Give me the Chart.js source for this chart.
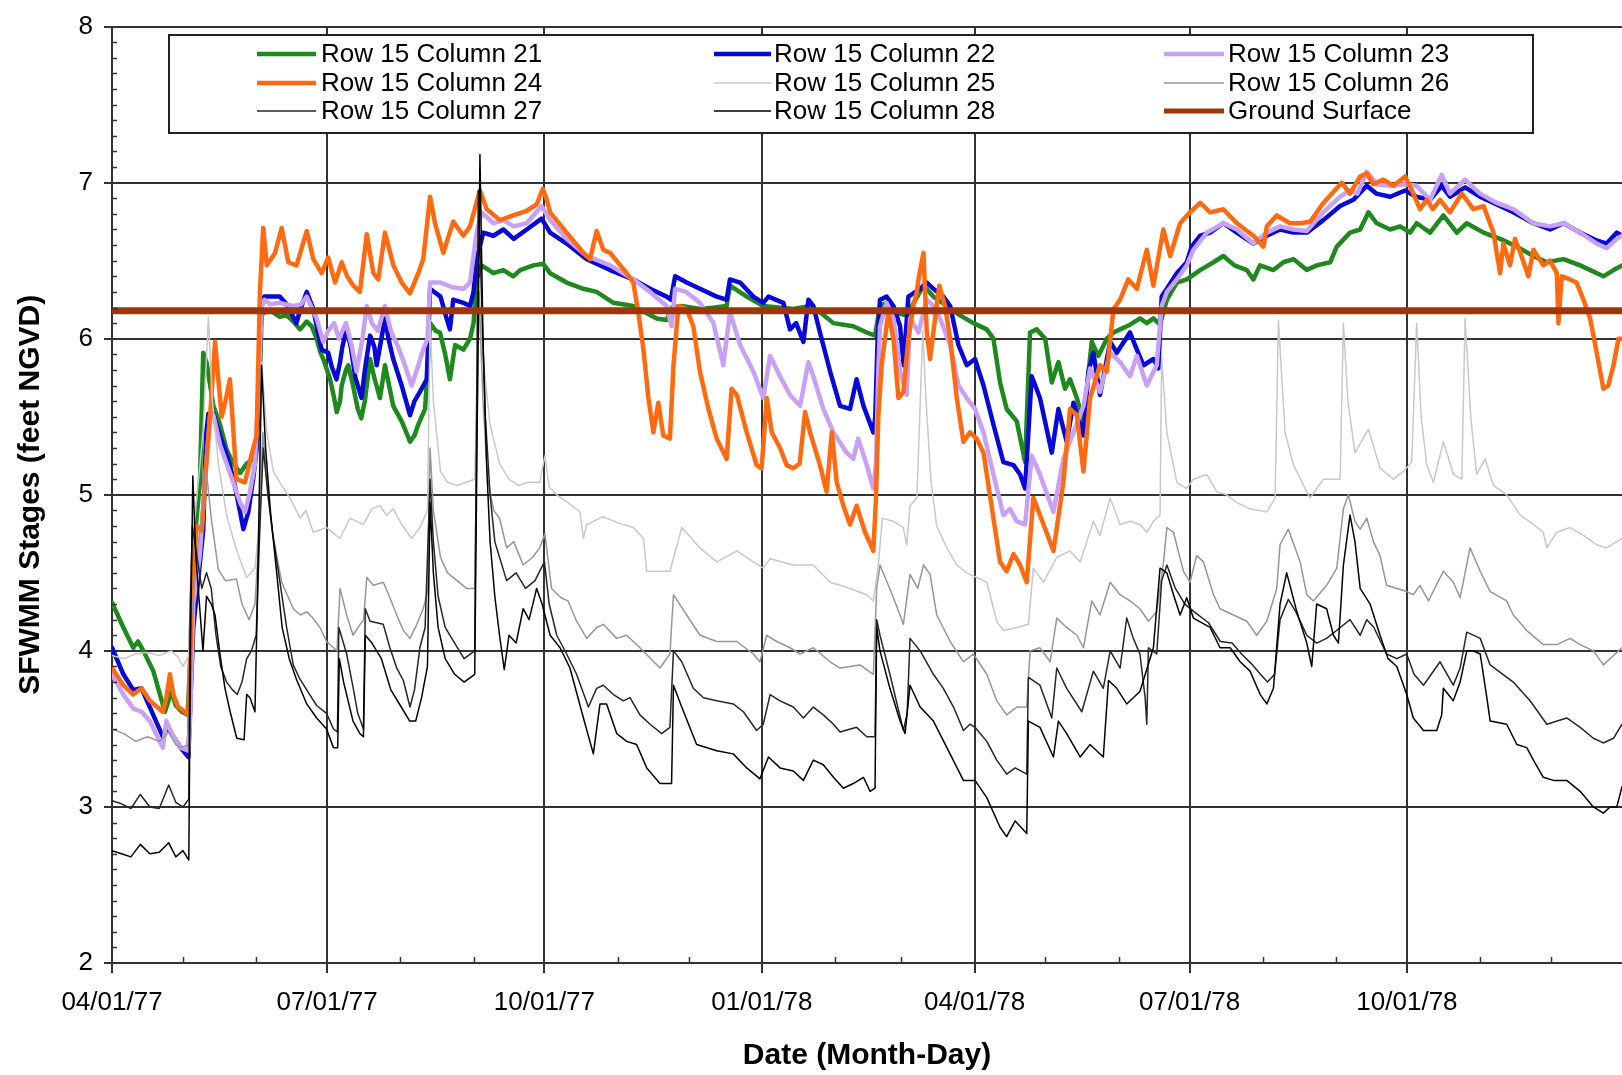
<!DOCTYPE html>
<html lang="en">
<head>
<meta charset="UTF-8">
<title>SFWMM Stages</title>
<script src="https://cdn.jsdelivr.net/npm/chart.js"></script>
<style>
    html, body { margin: 0; padding: 0; background: #fff; overflow: hidden; }
    canvas { display: block; }
</style>
</head>
<body>
<canvas id="grafica" width="1622" height="1075"></canvas>
<script>
// x = days since 04/01/77, y = stage (feet NGVD)
const quarterDays = [0, 91, 183, 275, 365, 456, 548];
const quarterLabels = ['04/01/77', '07/01/77', '10/01/77', '01/01/78', '04/01/78', '07/01/78', '10/01/78'];
const monthDays = [30, 61, 122, 153, 214, 244, 306, 334, 395, 426, 487, 518, 579, 609];
const groundSurface = 6.18;

const col21 = [[0,4.31],[4.8,4.15],[9,4.02],[11,4.06],[13.3,4.0],[17.5,3.87],[20.3,3.72],[22.4,3.61],[25.2,3.74],[27,3.65],[29.5,3.61],[32,3.59],[33,3.9],[34.4,4.62],[37.2,5.08],[38.6,5.91],[40,5.85],[42.9,5.57],[45.7,5.45],[48.5,5.29],[51.3,5.2],[54.2,5.14],[57,5.2],[59.8,5.23],[61.9,5.38],[63.3,6.15],[64.5,6.17],[67,6.18],[71,6.14],[74,6.15],[76.7,6.11],[79.6,6.06],[82.4,6.11],[84.5,6.08],[86.6,6.0],[88,5.92],[89.4,5.87],[91,5.8],[92.3,5.74],[94,5.62],[95.1,5.53],[96.5,5.6],[97.2,5.7],[99,5.8],[100,5.83],[102,5.7],[104,5.55],[105.5,5.49],[107,5.6],[109.2,5.87],[111,5.75],[113.4,5.62],[115.5,5.83],[117,5.72],[119,5.57],[122.6,5.47],[124,5.42],[126.1,5.34],[128,5.38],[129.6,5.45],[132.5,5.55],[133.5,5.8],[134.6,6.1],[137,6.05],[138.8,6.04],[141,5.9],[143,5.74],[145.2,5.96],[148.7,5.93],[151.5,6.0],[153,6.1],[154.3,6.38],[156.4,6.47],[161.4,6.42],[165.6,6.44],[169.8,6.4],[172.7,6.44],[178.3,6.47],[182.5,6.48],[185.4,6.42],[192.4,6.36],[199.5,6.32],[205.1,6.3],[212.2,6.23],[220.6,6.21],[230.5,6.13],[234.7,6.12],[237,6.2],[241.1,6.21],[248.8,6.19],[255,6.2],[260.1,6.21],[261.5,6.34],[268.6,6.27],[275.6,6.21],[288.3,6.19],[295.4,6.21],[299.6,6.17],[305.3,6.1],[313.7,6.08],[319.4,6.04],[322.9,6.02],[325,6.21],[327.8,6.23],[330.7,6.17],[336.3,6.15],[343.4,6.34],[347.6,6.27],[353.3,6.21],[358.9,6.15],[364.5,6.1],[370.2,6.06],[373,6.0],[375.8,5.72],[378.6,5.55],[382.9,5.47],[386.4,5.21],[388.5,6.04],[391.3,6.06],[394.9,6.0],[397.7,5.72],[400.5,5.85],[403.3,5.68],[405.4,5.74],[408.3,5.62],[411.1,5.47],[414.6,5.98],[417.4,5.89],[421,6.0],[423.8,6.04],[426.6,6.06],[430.8,6.09],[435,6.13],[437.9,6.1],[440.7,6.13],[443.5,6.09],[446.4,6.25],[450.6,6.36],[454.8,6.38],[460.5,6.44],[466.1,6.49],[470.3,6.53],[475,6.47],[480.2,6.44],[483,6.38],[485.8,6.47],[491.5,6.44],[495.7,6.49],[500,6.51],[505.6,6.44],[509.8,6.47],[515.5,6.49],[518.3,6.59],[523.9,6.68],[528.2,6.7],[531.7,6.81],[535.2,6.74],[540.9,6.7],[545.1,6.72],[549.3,6.68],[552.1,6.74],[557.8,6.68],[563.4,6.79],[569.1,6.68],[573.3,6.74],[580.4,6.68],[587.4,6.64],[594.5,6.59],[601.5,6.53],[607.2,6.49],[614.2,6.51],[621.3,6.47],[631.1,6.4],[635.4,6.44],[639,6.47]];

const col22 = [[0,4.02],[4.8,3.85],[9,3.75],[12.5,3.76],[16,3.64],[21.5,3.45],[23.5,3.51],[26,3.45],[29,3.38],[32.3,3.32],[33,3.6],[34.4,4.15],[36.5,4.46],[38.6,4.77],[39.8,5.38],[40.8,5.52],[42.9,5.52],[45.7,5.38],[48.5,5.26],[51.3,5.11],[54.2,4.89],[55.6,4.78],[57.7,4.89],[59.8,5.11],[61.2,5.29],[63.3,6.22],[64.5,6.27],[67,6.27],[71,6.27],[74,6.22],[78,6.1],[80,6.2],[82.4,6.3],[85.2,6.19],[87,6.05],[88.7,5.93],[91.5,5.91],[93,5.82],[95,5.74],[96.5,5.85],[97.5,5.95],[99.3,6.06],[101,5.95],[103,5.75],[105.6,5.62],[107,5.8],[109.2,6.02],[111,5.95],[112,5.83],[114,6.0],[115.5,6.13],[117,6.0],[119,5.87],[122.6,5.7],[126.1,5.51],[128,5.6],[130.3,5.66],[133.2,5.74],[134.6,6.32],[139,6.27],[141.6,6.13],[143,6.06],[144.4,6.25],[148.7,6.23],[151.5,6.21],[153,6.3],[154.3,6.51],[157.1,6.68],[161.4,6.66],[165.6,6.7],[170,6.64],[175.5,6.7],[181.8,6.77],[185.4,6.68],[192.4,6.61],[200.9,6.51],[203.7,6.49],[210.8,6.44],[220.6,6.38],[227.7,6.32],[234.7,6.27],[236.5,6.25],[238.3,6.4],[243.2,6.36],[248.8,6.32],[255.9,6.27],[260.1,6.25],[261.5,6.38],[265.8,6.36],[271.4,6.27],[275.6,6.23],[277.8,6.27],[284.1,6.23],[286.9,6.06],[289.5,6.1],[292.6,5.98],[294.7,6.25],[296.8,6.21],[299.6,6.04],[303.9,5.79],[308.1,5.57],[312.3,5.55],[315.1,5.74],[318,5.57],[322.2,5.4],[323,5.5],[324,6.0],[325,6.25],[327.8,6.27],[330.7,6.21],[333.5,6.08],[335,5.83],[337,6.27],[342,6.32],[344.8,6.36],[347.6,6.32],[351.8,6.27],[354.7,6.21],[358.2,5.96],[361.7,5.83],[365.2,5.87],[368.8,5.7],[373,5.45],[377.2,5.21],[381.5,5.19],[384.3,5.13],[386.4,5.04],[389.2,5.76],[392.7,5.62],[397.7,5.27],[400.5,5.55],[404,5.34],[406.9,5.59],[411.1,5.38],[413.2,5.79],[415.3,5.91],[418.1,5.64],[422.4,5.98],[425.2,5.91],[430.8,6.04],[433.7,5.93],[436.5,5.83],[440.7,5.87],[442.8,5.81],[444.2,6.27],[446.4,6.32],[450.6,6.42],[454.8,6.49],[456.9,6.59],[460.5,6.66],[464.7,6.68],[470.3,6.74],[476,6.68],[483,6.61],[488.7,6.66],[494.3,6.7],[500,6.68],[505.6,6.68],[512.6,6.76],[519.7,6.85],[525.3,6.89],[531,6.98],[535,6.93],[540.9,6.91],[547.2,6.95],[552,6.91],[557.8,6.89],[562.7,6.98],[566.2,6.91],[572.6,6.97],[578.9,6.91],[586,6.86],[593,6.81],[601.5,6.74],[608.6,6.7],[614.2,6.74],[621.3,6.68],[628.3,6.63],[632.5,6.61],[636.8,6.68],[639,6.66]];

const col23 = [[0,3.85],[4.8,3.72],[9,3.63],[12.5,3.61],[16,3.55],[21.5,3.38],[23,3.55],[26,3.45],[29,3.38],[32.3,3.36],[33,3.55],[34.4,4.3],[37.2,4.62],[39.3,5.08],[41.5,5.51],[42.9,5.51],[45.7,5.32],[48.5,5.2],[51.3,5.08],[54.2,4.95],[56.3,4.89],[58.4,5.02],[60.5,5.2],[62,5.69],[63.3,6.2],[64.5,6.25],[67,6.22],[71,6.23],[76.7,6.21],[80,6.22],[82.4,6.27],[86.6,6.13],[89.4,5.98],[91.5,6.05],[94,6.1],[96,6.0],[99,6.1],[101.5,5.95],[103.5,5.79],[106,6.0],[107.8,6.21],[110,6.1],[112.5,6.05],[115.5,6.21],[118,6.05],[121,5.95],[123.5,5.85],[126.8,5.7],[129,5.8],[131.7,5.93],[133.5,6.0],[134.6,6.36],[139,6.36],[144,6.33],[148.7,6.32],[151.5,6.36],[154.3,6.68],[156.4,6.81],[161.4,6.74],[165.6,6.76],[170,6.72],[175.5,6.74],[181.8,6.85],[185.4,6.76],[192.4,6.64],[200.9,6.53],[210.8,6.47],[220.6,6.38],[227.7,6.3],[234.7,6.21],[236.8,6.08],[238.3,6.32],[243,6.3],[248.8,6.23],[254.5,6.1],[258.7,5.83],[261.5,6.17],[265.8,5.96],[271.4,5.79],[275.6,5.62],[278.5,5.89],[282.7,5.76],[286.9,5.64],[291.2,5.57],[294.7,5.85],[297,5.75],[301,5.55],[305.3,5.4],[310.9,5.27],[313.7,5.23],[315.8,5.36],[319.4,5.19],[322.2,5.04],[323.3,5.2],[324.3,5.8],[325,6.08],[327.8,6.23],[330.7,6.13],[333.5,5.79],[336.3,5.64],[337.7,6.13],[341.3,6.04],[344.8,6.25],[347.6,6.21],[350.4,6.13],[354.7,5.96],[358.2,5.7],[361.7,5.62],[365.2,5.55],[368.8,5.4],[373,5.13],[377.2,4.87],[380,4.91],[382.9,4.83],[386.4,4.81],[389.2,5.25],[392.7,5.13],[398.4,4.89],[402.6,5.23],[406.9,5.4],[411.1,5.57],[413.9,5.81],[418.1,5.66],[422.4,5.91],[426.6,5.85],[430.8,5.76],[433.7,5.89],[437.9,5.7],[442.1,5.83],[444.2,6.21],[446.4,6.3],[450.6,6.38],[454.8,6.47],[457.6,6.57],[463.3,6.68],[470.3,6.74],[476,6.7],[483,6.61],[488.7,6.68],[494.3,6.72],[500,6.7],[505.6,6.69],[512.6,6.81],[519.7,6.91],[523.9,6.95],[527,6.93],[531,7.07],[535.2,6.99],[540.9,6.98],[547.2,6.99],[552.1,6.98],[557.8,6.89],[562.7,7.05],[566.2,6.93],[572.6,7.02],[578.9,6.93],[586,6.87],[593,6.83],[601.5,6.74],[608.6,6.72],[614.2,6.74],[621.3,6.68],[628.3,6.61],[632.5,6.58],[636.8,6.64],[639,6.66]];

const col24 = [[0,3.89],[4.8,3.78],[9,3.72],[12.5,3.76],[16,3.68],[21.5,3.61],[23,3.7],[24.5,3.85],[26,3.72],[28,3.64],[30,3.62],[32.3,3.59],[33,3.9],[34,4.4],[35.8,4.8],[38,4.77],[39.3,5.08],[41.5,5.5],[43.6,5.98],[46.4,5.5],[48,5.6],[49.9,5.74],[52.7,5.1],[56.3,5.08],[59.1,5.26],[61.2,5.38],[62.6,6.3],[64,6.71],[65.5,6.47],[69,6.55],[71.8,6.71],[74.6,6.49],[78.1,6.47],[82.4,6.69],[85.2,6.51],[88.7,6.42],[91.5,6.52],[94.4,6.36],[97.2,6.49],[99.5,6.4],[102.1,6.34],[104.9,6.3],[107.8,6.67],[110.6,6.42],[112.7,6.38],[115.5,6.68],[119.1,6.47],[122.6,6.36],[126.1,6.29],[129.6,6.42],[131.7,6.51],[134.6,6.91],[136.7,6.74],[140.2,6.55],[144.4,6.75],[148.7,6.66],[151.5,6.72],[155.7,6.95],[158.6,6.83],[164.2,6.76],[169.8,6.79],[175.5,6.82],[179.7,6.86],[182.3,6.96],[184,6.89],[185.4,6.81],[192.4,6.68],[199.5,6.55],[202.3,6.51],[205.1,6.69],[207.9,6.57],[210.8,6.55],[217.8,6.42],[220.6,6.36],[222.7,6.17],[224.9,5.93],[227,5.62],[229.1,5.4],[231.2,5.59],[233.3,5.38],[236.1,5.36],[237.6,5.83],[239.7,6.21],[243.2,6.19],[246,6.08],[248.8,5.79],[252.4,5.55],[255.9,5.36],[260.1,5.23],[262.2,5.68],[264.4,5.64],[268.6,5.4],[272.8,5.19],[274.9,5.17],[277.1,5.62],[279.2,5.4],[282.7,5.3],[285.5,5.19],[288.3,5.17],[291,5.2],[293.3,5.53],[295.4,5.4],[299.6,5.19],[302.4,5.02],[304.6,5.4],[306.7,5.08],[309.5,4.93],[312.3,4.81],[315.1,4.93],[318.7,4.76],[322.2,4.64],[323.3,4.98],[324.3,5.51],[325.7,5.83],[328.5,6.17],[330.7,6.0],[332.8,5.62],[334.9,5.66],[337,6.0],[339.1,6.21],[340.6,6.3],[341.5,6.4],[343.4,6.55],[344.8,6.04],[346.2,5.87],[348.3,6.13],[350.1,6.34],[352.5,6.21],[354.7,6.0],[357.5,5.62],[360.3,5.34],[363.1,5.4],[365.9,5.36],[368.8,5.27],[371.6,4.99],[375.8,4.57],[378.6,4.51],[381.5,4.62],[384.3,4.55],[387.1,4.44],[389.9,4.98],[394.2,4.81],[398.4,4.64],[402.6,5.08],[405.4,5.55],[408.3,5.51],[411.1,5.15],[413.9,5.62],[418.1,5.83],[421,5.79],[423.8,6.19],[426.6,6.25],[430.1,6.38],[433.7,6.32],[437.9,6.57],[440.7,6.34],[444.9,6.7],[447.8,6.53],[452,6.74],[456.2,6.81],[460.5,6.87],[464.7,6.81],[470.3,6.83],[476,6.74],[483,6.66],[487.3,6.59],[488.7,6.72],[492.9,6.79],[498.5,6.74],[502.8,6.74],[507,6.75],[512.6,6.87],[520.4,7.0],[523.9,6.93],[528.2,7.04],[531,7.06],[533.8,6.99],[538,7.02],[542.3,6.98],[547.2,7.04],[550.7,6.93],[553.5,6.83],[556.4,6.89],[559,6.83],[562,6.89],[566.2,6.81],[571.2,6.93],[576.1,6.83],[580.4,6.85],[584.6,6.68],[587.4,6.42],[588.8,6.61],[591.6,6.47],[593.7,6.64],[596,6.55],[599.4,6.4],[601.5,6.57],[605.7,6.47],[608.5,6.5],[611.4,6.42],[612.1,6.1],[613.5,6.4],[617,6.38],[619.8,6.36],[622.7,6.25],[625.5,6.13],[628.3,5.91],[631.1,5.68],[633.2,5.7],[635.4,5.83],[637.5,6.0],[639,6.0]];

const col25 = [[0,3.97],[5,3.95],[10,3.98],[15,3.99],[20,3.97],[25,4.0],[28,3.96],[30,3.9],[32.5,3.97],[33.5,4.6],[36,5.0],[38.5,5.4],[40.8,6.14],[42.5,5.6],[45,5.2],[48.5,4.87],[52.8,4.64],[57,4.47],[60.5,4.53],[62.3,4.8],[63.3,5.85],[65.5,5.4],[68.3,5.15],[71.8,5.06],[75.3,4.98],[79.6,4.85],[82,4.9],[85.2,4.76],[90.8,4.79],[96.5,4.72],[100.7,4.85],[106.4,4.81],[109.9,4.91],[113.4,4.93],[116.2,4.87],[119,4.91],[122.6,4.81],[126.8,4.72],[130.3,4.79],[133.5,4.9],[134.6,6.12],[136,5.6],[139,5.15],[142,5.08],[146,5.06],[150,5.08],[153.5,5.1],[155.5,6.25],[157.5,5.8],[160,5.45],[164,5.2],[168,5.1],[172,5.06],[176,5.08],[181,5.08],[183.2,5.25],[185,5.05],[188.2,5.0],[193,4.95],[198,4.89],[199.5,4.72],[200.9,4.81],[207.9,4.86],[214,4.82],[220.6,4.79],[224.9,4.72],[226.3,4.51],[236.1,4.51],[241.1,4.79],[248.8,4.66],[255.9,4.57],[264.4,4.64],[271.4,4.57],[275.6,4.53],[278.5,4.59],[288.3,4.55],[296.8,4.55],[303.9,4.44],[312.3,4.4],[319.4,4.36],[322.2,4.32],[324.3,4.55],[326,4.85],[330.7,4.83],[334.9,4.79],[336.3,4.68],[337.7,4.93],[340.6,4.98],[343.1,6.05],[344.5,5.6],[346.5,5.1],[349,4.8],[353.3,4.66],[357.5,4.55],[361.7,4.5],[366,4.47],[370.2,4.44],[374.4,4.19],[377.2,4.13],[382.9,4.15],[387.8,4.17],[389.9,4.53],[394.2,4.44],[399.8,4.6],[405.4,4.64],[409.7,4.57],[412.5,4.7],[415.3,4.83],[418.1,4.74],[422.4,4.98],[426.6,4.81],[430.8,4.83],[435,4.81],[437.9,4.76],[440.7,4.83],[443.5,4.87],[444.2,5.88],[446.4,5.4],[450.6,5.08],[454.8,5.04],[457.6,5.1],[463.3,5.13],[467.5,5.02],[471.7,5.0],[476,4.95],[481.6,4.91],[488.7,4.89],[492.2,4.98],[493.6,6.12],[496.4,5.4],[500,5.19],[504.2,5.06],[507,4.98],[512.6,5.1],[519.7,5.1],[521.1,6.1],[523,5.6],[526,5.27],[531.7,5.42],[536.6,5.17],[542.3,5.1],[546.5,5.15],[550,5.21],[552.1,6.1],[554,5.5],[556.4,5.19],[559.2,5.08],[563.4,5.34],[567.7,5.13],[571.2,5.1],[572.6,6.13],[575,5.5],[577.5,5.13],[581.1,5.23],[584.6,5.06],[590.2,5.0],[595.9,4.87],[601.5,4.81],[605.7,4.76],[607.2,4.66],[611.4,4.76],[617,4.79],[622.7,4.74],[628.3,4.68],[632.5,4.66],[636.8,4.7],[639,4.72]];

const col26 = [[0,3.5],[5,3.47],[10,3.42],[15,3.45],[20,3.42],[24,3.48],[27,3.4],[29,3.38],[32.5,3.4],[33.5,4.2],[36,4.6],[38,4.9],[40,5.14],[42,4.85],[45,4.52],[48,4.45],[52.7,4.46],[55,4.3],[58,4.2],[60.5,4.3],[62.5,4.8],[63.8,5.4],[66,5.0],[68,4.75],[71.8,4.44],[76.7,4.27],[79.6,4.23],[82.4,4.25],[85,4.21],[88,4.15],[90.8,4.06],[93.7,4.02],[95.2,4.0],[96.5,4.4],[99.3,4.23],[102,4.1],[105,4.17],[106.5,4.2],[107.8,4.47],[110.6,4.42],[114.8,4.44],[117.6,4.34],[120.5,4.23],[123.3,4.13],[126.1,4.08],[129,4.17],[131.7,4.27],[133.5,4.38],[134.6,5.3],[136,4.9],[139,4.6],[142,4.5],[146,4.45],[150,4.4],[153.5,4.4],[155.3,6.3],[157,5.6],[159,5.1],[161.5,4.9],[164,4.85],[167,4.66],[170,4.7],[174,4.55],[178,4.6],[181,4.66],[183.2,4.75],[186,4.4],[190,4.34],[193,4.32],[196.6,4.19],[200.9,4.08],[205.1,4.15],[207.9,4.17],[213.6,4.08],[217.8,4.1],[223.4,4.02],[231.9,3.89],[236.1,3.98],[237.6,4.36],[243.2,4.23],[248.8,4.1],[255.9,4.06],[264.4,4.06],[271.4,3.98],[274.2,3.93],[277.1,4.1],[281.3,4.06],[286.9,4.02],[291.2,3.98],[296.8,4.02],[303.9,3.93],[308.1,3.89],[316.5,3.91],[322.2,3.85],[323.6,4.4],[325,4.55],[330.7,4.34],[334.9,4.17],[337.7,4.49],[341,4.4],[343.4,4.55],[346.2,4.49],[349,4.23],[354.7,4.06],[360.3,3.93],[364.5,3.98],[370.2,3.85],[374.4,3.68],[378.6,3.59],[382.9,3.64],[387.1,3.64],[388.5,4.0],[392.7,4.02],[397,3.93],[399.8,4.21],[404,4.15],[408.3,4.1],[411.1,4.02],[414.6,4.32],[418.1,4.23],[422.4,4.44],[426.6,4.36],[430.8,4.32],[435,4.27],[438.6,4.19],[442.1,4.25],[445,4.57],[446.4,4.79],[449.2,4.76],[453.4,4.51],[456.2,4.44],[459,4.61],[461.9,4.57],[466.1,4.36],[468.9,4.27],[474.6,4.23],[480.2,4.19],[484.4,4.1],[488.7,4.19],[492.9,4.4],[494.3,4.68],[497.8,4.78],[502.8,4.57],[505.6,4.36],[508.4,4.32],[514,4.42],[518.3,4.53],[521.1,4.91],[523.2,5.0],[526,4.83],[528.2,4.78],[531,4.85],[533.8,4.7],[536.6,4.61],[539.4,4.42],[543.7,4.4],[547.9,4.38],[550.7,4.36],[553.5,4.42],[557.1,4.32],[563.4,4.51],[567.6,4.44],[570.5,4.34],[574.7,4.66],[579,4.51],[583.2,4.38],[590.2,4.32],[593,4.23],[598.7,4.13],[605.7,4.04],[611.4,4.04],[617,4.08],[621.3,4.04],[626.9,4.0],[631.1,3.91],[635.4,3.97],[639,4.02]];

const col27 = [[0,3.04],[4,3.02],[8,2.99],[12,3.08],[16,3.0],[20,2.99],[24,3.14],[27,3.03],[30,3.0],[32.5,3.05],[33,4.2],[34,4.8],[36,4.6],[38,4.4],[40,4.5],[42,4.4],[44,4.1],[46,3.9],[48.5,3.8],[51,3.75],[53,3.72],[55,3.8],[57,3.95],[59,4.0],[61,4.1],[62.6,4.8],[64,5.3],[66,5.0],[68,4.75],[70,4.55],[73.9,4.15],[76.7,3.91],[79.5,3.82],[82.4,3.75],[86.6,3.65],[90.8,3.6],[93.7,3.5],[95.4,3.48],[96,4.15],[99.3,3.98],[102.1,3.76],[104,3.6],[106.4,3.5],[107.2,4.27],[109.2,4.19],[114.8,4.17],[117.6,4.02],[120.5,3.89],[123.3,3.81],[126.1,3.64],[128,3.75],[130.3,4.02],[132.5,4.15],[134.6,5.1],[136,4.7],[138,4.35],[141,4.15],[145,4.05],[149,3.95],[153.5,4.0],[155,6.95],[156.5,6.2],[158,5.5],[160,5.0],[162,4.7],[164,4.6],[167,4.45],[171,4.5],[175,4.4],[179,4.45],[183,4.57],[185,4.3],[188.2,4.1],[192.4,3.98],[196.6,3.85],[201.6,3.64],[205.1,3.76],[207.9,3.78],[212.2,3.72],[216.4,3.68],[219.2,3.7],[223.4,3.59],[227.7,3.53],[232.6,3.47],[236.1,3.51],[237.6,4.0],[241.1,3.93],[246,3.76],[250.3,3.7],[255.9,3.68],[262.9,3.66],[267.2,3.61],[272.8,3.49],[275.6,3.53],[278.5,3.72],[282.7,3.68],[288.3,3.64],[292.6,3.57],[296.8,3.64],[301,3.59],[305.3,3.53],[308.1,3.48],[315.1,3.51],[319.4,3.45],[322.9,3.45],[323.6,4.2],[325,4.1],[329.2,3.85],[334.9,3.49],[336.5,3.6],[337.7,4.08],[342,4.0],[347.6,3.85],[351.8,3.76],[356.1,3.64],[360.3,3.49],[363.1,3.53],[365.2,3.51],[370.2,3.42],[374.4,3.3],[378.6,3.21],[382.2,3.25],[387.1,3.21],[387.8,3.83],[392.7,3.78],[397.7,3.57],[399.8,3.89],[404,3.76],[410.4,3.61],[415.3,3.87],[419.5,3.76],[422.4,4.0],[426.6,3.89],[429.4,4.21],[432.2,4.08],[435,3.98],[437.2,3.7],[437.9,3.53],[438.6,4.02],[442.1,3.98],[444.2,4.45],[446.4,4.55],[450,4.4],[454,4.3],[458,4.25],[464,4.18],[469,4.06],[474,4.05],[478,3.98],[482,3.92],[486,3.85],[489,3.8],[492,3.85],[494.3,4.2],[497.8,4.33],[501,4.25],[505.6,4.1],[509.8,4.05],[514,4.08],[519,4.14],[523.9,4.2],[528.2,4.1],[531,4.2],[534,4.15],[539.4,3.98],[543.7,3.95],[547.9,3.98],[551,3.85],[555,3.78],[562,3.93],[567.6,3.78],[570.5,3.89],[573.3,4.12],[579,4.08],[583.2,3.91],[593,3.8],[600.1,3.68],[607.2,3.53],[615.6,3.57],[621.3,3.51],[626.9,3.44],[631.1,3.41],[635.4,3.44],[639,3.53]];

const col28 = [[0,2.72],[4,2.7],[8,2.68],[12,2.76],[16,2.7],[20,2.71],[24,2.77],[27,2.68],[30,2.72],[32.5,2.66],[33.2,4.0],[34.2,5.12],[35.5,4.6],[37,4.3],[38.5,4.0],[40,4.35],[42,4.3],[43.6,4.23],[45.7,3.98],[47.8,3.76],[50,3.61],[52.8,3.44],[55.9,3.43],[57,3.72],[58.4,3.7],[60.5,3.61],[61.5,4.3],[63.3,5.83],[65,5.3],[67,4.9],[69.7,4.5],[72,4.15],[75,3.95],[78,3.82],[82.4,3.66],[86.6,3.57],[90.8,3.5],[93.7,3.38],[95.5,3.38],[96.2,3.95],[98,3.8],[102,3.55],[104.9,3.47],[106.4,3.45],[107.2,4.1],[110,4.05],[114,3.95],[118,3.75],[122,3.65],[126,3.55],[128.5,3.55],[131,3.7],[133.5,3.9],[134.6,4.95],[136,4.5],[138,4.15],[141,3.95],[145,3.85],[149,3.8],[153.5,3.85],[155.7,7.18],[157,6.0],[158.5,5.2],[160,4.7],[162,4.35],[164,4.1],[166,3.88],[168,4.1],[171,4.05],[174,4.27],[176.5,4.2],[179.7,4.4],[182,4.3],[185.4,4.1],[189.6,4.02],[193.8,3.89],[199.5,3.57],[203.7,3.34],[206.5,3.66],[209.3,3.66],[213.6,3.47],[217.8,3.42],[222,3.4],[226.3,3.25],[231.9,3.15],[236.8,3.15],[237.6,3.78],[241.1,3.64],[247.4,3.4],[255.9,3.36],[262.9,3.34],[268.6,3.25],[274.2,3.18],[277.8,3.32],[282.7,3.25],[288.3,3.23],[292.6,3.17],[296.8,3.3],[301,3.27],[305.3,3.19],[309.5,3.12],[313.7,3.15],[318,3.19],[320.8,3.1],[322.9,3.12],[323.6,4.15],[325,4.0],[329.2,3.76],[333.5,3.55],[335.6,3.47],[337.7,3.78],[342,3.64],[347.6,3.55],[353.3,3.38],[360.3,3.17],[365.2,3.17],[370.2,3.06],[375.8,2.87],[378.6,2.81],[382.2,2.91],[387.1,2.83],[387.8,3.55],[392.7,3.51],[398.4,3.32],[400.5,3.55],[404,3.47],[409.7,3.32],[413.9,3.4],[419.5,3.32],[421.7,3.81],[425.2,3.76],[429.4,3.66],[435,3.74],[440.7,4.02],[443.5,4.53],[446.4,4.5],[449.2,4.36],[452,4.23],[454.8,4.34],[457.6,4.21],[464.7,4.15],[468.9,4.02],[473.2,4.02],[477.4,3.93],[481.6,3.87],[485.9,3.72],[488.7,3.66],[491.5,3.76],[494.3,4.3],[497.1,4.5],[501.4,4.25],[505.6,4.05],[507.7,3.9],[509.8,4.3],[514,4.27],[516.9,4.1],[519,4.05],[521.1,4.55],[523.9,4.87],[526,4.7],[528.2,4.4],[532.4,4.3],[536.6,4.1],[540,3.95],[543.7,3.9],[547.9,3.72],[550.7,3.57],[555,3.49],[560.6,3.49],[562.7,3.59],[563.4,3.76],[567.6,3.68],[570.5,3.8],[573.3,4.0],[576,4.0],[579,3.98],[581.8,3.7],[583.2,3.55],[590.2,3.53],[594.5,3.4],[598.7,3.38],[601.5,3.3],[605.7,3.19],[610,3.17],[615.6,3.17],[621.3,3.1],[626.9,3.0],[631.1,2.96],[634,3.0],[636.8,3.0],[639,3.13]];

const seriesNames = ['Row 15 Column 21', 'Row 15 Column 22', 'Row 15 Column 23', 'Row 15 Column 24', 'Row 15 Column 25', 'Row 15 Column 26', 'Row 15 Column 27', 'Row 15 Column 28', 'Ground Surface'];
const seriesColors = ['#1e8a1e', '#0808d8', '#c8a0f4', '#ff6a10', '#c8c8c8', '#969696', '#262626', '#000000', '#9e360c'];
const seriesWidths = [4.5, 4.5, 4.5, 4.5, 1.5, 1.5, 1.5, 1.5, 7];

const allSeries = [col21, col22, col23, col24, col25, col26, col27, col28, [[0, groundSurface], [639, groundSurface]]];

const FONT = '"Liberation Sans", Arial, Helvetica, sans-serif';
Chart.defaults.font.family = FONT;
Chart.defaults.color = '#000';

// rayitas pequeñas: cada 0.1 pie en Y y cada mes en X, hacia adentro
const minorTicks = {
    id: 'minorTicks',
    afterDraw(chart) {
        const { ctx, chartArea, scales: { x, y } } = chart;
        ctx.save();
        ctx.strokeStyle = '#333';
        ctx.lineWidth = 1.5;
        ctx.beginPath();
        for (let i = 21; i < 80; i++) {
            if (i % 10 === 0) continue;
            const py = Math.round(y.getPixelForValue(i / 10)) + 0.5;
            ctx.moveTo(chartArea.left, py);
            ctx.lineTo(chartArea.left + 5, py);
        }
        monthDays.forEach(d => {
            const px = Math.round(x.getPixelForValue(d)) + 0.5;
            ctx.moveTo(px, chartArea.bottom);
            ctx.lineTo(px, chartArea.bottom - 6);
        });
        ctx.stroke();
        ctx.restore();
    }
};

// leyenda en caja, 3 columnas
const boxLegend = {
    id: 'boxLegend',
    afterDraw(chart) {
        const ctx = chart.ctx;
        const colX = [[257, 316, 321], [714, 771, 774], [1164, 1224, 1228]];
        const rowY = [54, 83, 111];
        ctx.save();
        ctx.fillStyle = '#fff';
        ctx.fillRect(169, 35, 1364, 98);
        ctx.strokeStyle = '#222';
        ctx.lineWidth = 2;
        ctx.strokeRect(169, 35, 1364, 98);
        ctx.font = '26px ' + FONT;
        ctx.textBaseline = 'middle';
        chart.data.datasets.forEach((ds, i) => {
            const c = colX[i % 3];
            const yy = rowY[Math.floor(i / 3)];
            ctx.strokeStyle = ds.borderColor;
            ctx.lineWidth = Math.min(ds.borderWidth, 5);
            ctx.beginPath();
            ctx.moveTo(c[0], yy);
            ctx.lineTo(c[1], yy);
            ctx.stroke();
            ctx.fillStyle = '#000';
            ctx.fillText(ds.label, c[2], yy + 1);
        });
        ctx.restore();
    }
};

const ctx = document.getElementById('grafica').getContext('2d');
const chart = new Chart(ctx, {
    type: 'line',
    data: {
        datasets: allSeries.map((s, i) => ({
            label: seriesNames[i],
            data: s.map(p => ({ x: p[0], y: p[1] })),
            borderColor: seriesColors[i],
            borderWidth: seriesWidths[i],
            pointRadius: 0,
            tension: 0,
            fill: false,
            borderJoinStyle: 'round',
            borderCapStyle: 'round',
            order: allSeries.length - i
        }))
    },
    options: {
        responsive: false,
        animation: false,
        devicePixelRatio: 1,
        layout: { padding: { top: 23, right: 0, bottom: 0, left: 0 } },
        plugins: {
            legend: { display: false },
            tooltip: { enabled: false }
        },
        scales: {
            x: {
                type: 'linear',
                min: 0,
                max: 639,
                afterBuildTicks: (s) => { s.ticks = quarterDays.map(v => ({ value: v })); },
                afterFit: (s) => { s.height = 112; s.paddingLeft = 0; s.paddingRight = 0; },
                ticks: {
                    autoSkip: false,
                    maxRotation: 0,
                    padding: 14,
                    font: { size: 26 },
                    color: '#000',
                    callback: (v) => quarterLabels[quarterDays.indexOf(v)]
                },
                grid: { color: '#333', lineWidth: 2, tickLength: 10 },
                border: { color: '#333', width: 2 },
                title: {
                    display: true,
                    text: 'Date (Month-Day)',
                    font: { size: 30, weight: 'bold' },
                    color: '#000',
                    padding: { top: 0, bottom: 1 }
                }
            },
            y: {
                min: 2,
                max: 8,
                afterFit: (s) => { s.width = 112; },
                ticks: { stepSize: 1, padding: 11, font: { size: 26 }, color: '#000' },
                grid: { color: '#333', lineWidth: 2, tickLength: 8 },
                border: { color: '#333', width: 2 },
                title: {
                    display: true,
                    text: 'SFWMM Stages (feet NGVD)',
                    font: { size: 30, weight: 'bold' },
                    color: '#000',
                    padding: { top: 13, bottom: 0 }
                }
            }
        }
    },
    plugins: [minorTicks, boxLegend]
});
</script>
</body>
</html>
